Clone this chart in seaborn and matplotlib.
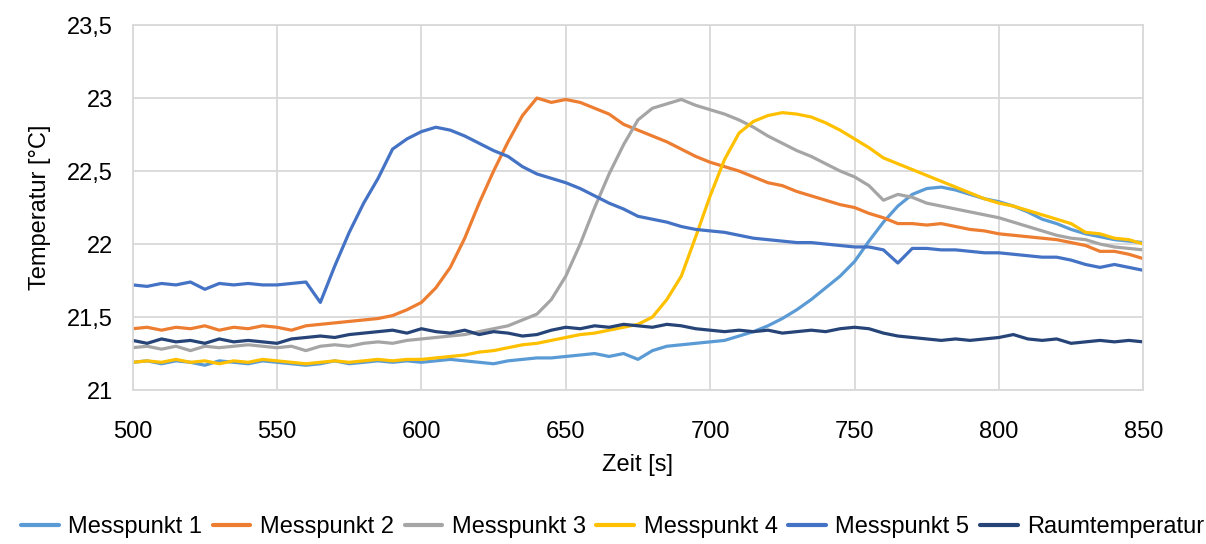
import numpy as np
import pandas as pd
import matplotlib
matplotlib.use("Agg")
import matplotlib.pyplot as plt
from matplotlib.ticker import FuncFormatter
import seaborn as sns

# ---- data (5 s resolution) ----
zeit = list(range(500, 851, 5))

messpunkt_1 = [21.19, 21.20, 21.18, 21.20, 21.19, 21.17, 21.20, 21.19, 21.18, 21.20,
               21.19, 21.18, 21.17, 21.18, 21.20, 21.18, 21.19, 21.20, 21.19, 21.20,
               21.19, 21.20, 21.21, 21.20, 21.19, 21.18, 21.20, 21.21, 21.22, 21.22,
               21.23, 21.24, 21.25, 21.23, 21.25, 21.21, 21.27, 21.30, 21.31, 21.32,
               21.33, 21.34, 21.37, 21.40, 21.44, 21.49, 21.55, 21.62, 21.70, 21.78,
               21.88, 22.02, 22.15, 22.26, 22.34, 22.38, 22.39, 22.37, 22.34, 22.31,
               22.29, 22.26, 22.22, 22.17, 22.14, 22.10, 22.07, 22.05, 22.03, 22.02,
               22.01]

messpunkt_2 = [21.42, 21.43, 21.41, 21.43, 21.42, 21.44, 21.41, 21.43, 21.42, 21.44,
               21.43, 21.41, 21.44, 21.45, 21.46, 21.47, 21.48, 21.49, 21.51, 21.55,
               21.60, 21.70, 21.84, 22.04, 22.28, 22.50, 22.70, 22.88, 23.00, 22.97,
               22.99, 22.97, 22.93, 22.89, 22.82, 22.78, 22.74, 22.70, 22.65, 22.60,
               22.56, 22.53, 22.50, 22.46, 22.42, 22.40, 22.36, 22.33, 22.30, 22.27,
               22.25, 22.21, 22.18, 22.14, 22.14, 22.13, 22.14, 22.12, 22.10, 22.09,
               22.07, 22.06, 22.05, 22.04, 22.03, 22.01, 21.99, 21.95, 21.95, 21.93,
               21.90]

messpunkt_3 = [21.29, 21.30, 21.28, 21.30, 21.27, 21.30, 21.29, 21.30, 21.31, 21.30,
               21.29, 21.30, 21.27, 21.30, 21.31, 21.30, 21.32, 21.33, 21.32, 21.34,
               21.35, 21.36, 21.37, 21.38, 21.40, 21.42, 21.44, 21.48, 21.52, 21.62,
               21.78, 22.00, 22.25, 22.48, 22.68, 22.85, 22.93, 22.96, 22.99, 22.95,
               22.92, 22.89, 22.85, 22.80, 22.74, 22.69, 22.64, 22.60, 22.55, 22.50,
               22.46, 22.40, 22.30, 22.34, 22.32, 22.28, 22.26, 22.24, 22.22, 22.20,
               22.18, 22.15, 22.12, 22.09, 22.06, 22.04, 22.03, 22.00, 21.98, 21.97,
               21.96]

messpunkt_4 = [21.19, 21.20, 21.19, 21.21, 21.19, 21.20, 21.18, 21.20, 21.19, 21.21,
               21.20, 21.19, 21.18, 21.19, 21.20, 21.19, 21.20, 21.21, 21.20, 21.21,
               21.21, 21.22, 21.23, 21.24, 21.26, 21.27, 21.29, 21.31, 21.32, 21.34,
               21.36, 21.38, 21.39, 21.41, 21.43, 21.45, 21.50, 21.62, 21.78, 22.05,
               22.33, 22.58, 22.76, 22.84, 22.88, 22.90, 22.89, 22.87, 22.83, 22.78,
               22.72, 22.66, 22.59, 22.55, 22.51, 22.47, 22.43, 22.39, 22.35, 22.31,
               22.28, 22.26, 22.23, 22.20, 22.17, 22.14, 22.08, 22.07, 22.04, 22.03,
               22.00]

messpunkt_5 = [21.72, 21.71, 21.73, 21.72, 21.74, 21.69, 21.73, 21.72, 21.73, 21.72,
               21.72, 21.73, 21.74, 21.60, 21.85, 22.08, 22.28, 22.45, 22.65, 22.72,
               22.77, 22.80, 22.78, 22.74, 22.69, 22.64, 22.60, 22.53, 22.48, 22.45,
               22.42, 22.38, 22.33, 22.28, 22.24, 22.19, 22.17, 22.15, 22.12, 22.10,
               22.09, 22.08, 22.06, 22.04, 22.03, 22.02, 22.01, 22.01, 22.00, 21.99,
               21.98, 21.98, 21.96, 21.87, 21.97, 21.97, 21.96, 21.96, 21.95, 21.94,
               21.94, 21.93, 21.92, 21.91, 21.91, 21.89, 21.86, 21.84, 21.86, 21.84,
               21.82]

raumtemperatur = [21.34, 21.32, 21.35, 21.33, 21.34, 21.32, 21.35, 21.33, 21.34, 21.33,
                  21.32, 21.35, 21.36, 21.37, 21.36, 21.38, 21.39, 21.40, 21.41, 21.39,
                  21.42, 21.40, 21.39, 21.41, 21.38, 21.40, 21.39, 21.37, 21.38, 21.41,
                  21.43, 21.42, 21.44, 21.43, 21.45, 21.44, 21.43, 21.45, 21.44, 21.42,
                  21.41, 21.40, 21.41, 21.40, 21.41, 21.39, 21.40, 21.41, 21.40, 21.42,
                  21.43, 21.42, 21.39, 21.37, 21.36, 21.35, 21.34, 21.35, 21.34, 21.35,
                  21.36, 21.38, 21.35, 21.34, 21.35, 21.32, 21.33, 21.34, 21.33, 21.34,
                  21.33]

series_names = ["Messpunkt 1", "Messpunkt 2", "Messpunkt 3",
                "Messpunkt 4", "Messpunkt 5", "Raumtemperatur"]
series_values = [messpunkt_1, messpunkt_2, messpunkt_3,
                 messpunkt_4, messpunkt_5, raumtemperatur]
colors = ["#5B9BD5", "#ED7D31", "#A5A5A5", "#FFC000", "#4472C4", "#264478"]

x_ticks = [500, 550, 600, 650, 700, 750, 800, 850]
y_ticks = [21, 21.5, 22, 22.5, 23, 23.5]

# ---- long-form table ----
df = pd.concat(
    [pd.DataFrame({"Zeit": zeit, "Temperatur": v, "Serie": n})
     for n, v in zip(series_names, series_values)],
    ignore_index=True,
)

sns.set_theme(style="whitegrid")
plt.rcParams["font.family"] = ["Liberation Sans", "DejaVu Sans"]
plt.rcParams["text.color"] = "black"
plt.rcParams["legend.labelcolor"] = "black"

fig = plt.figure(figsize=(12.06, 5.44), dpi=100)
ax = fig.add_axes([0.110, 0.283, 0.838, 0.671])

sns.lineplot(data=df, x="Zeit", y="Temperatur", hue="Serie",
             hue_order=series_names, palette=dict(zip(series_names, colors)),
             linewidth=2.3, ax=ax, legend=True)

ax.set_xlim(500, 850)
ax.set_ylim(21, 23.5)
ax.set_xticks(x_ticks)
ax.set_yticks(y_ticks)
ax.yaxis.set_major_formatter(FuncFormatter(lambda v, p: f"{v:g}".replace(".", ",")))
ax.tick_params(axis="both", labelsize=17, colors="black", length=0)
ax.tick_params(axis="x", pad=22)
ax.tick_params(axis="y", pad=14)
ax.grid(True, color="#D9D9D9", linewidth=1.3)
for s in ax.spines.values():
    s.set_color("#D9D9D9")
    s.set_linewidth(1.3)

ax.set_xlabel("Zeit [s]", fontsize=17, color="black", labelpad=8)
ax.set_ylabel("Temperatur [°C]", fontsize=17, color="black", labelpad=12)

handles, labels = ax.get_legend_handles_labels()
ax.get_legend().remove()
for h in handles:
    h.set_linewidth(3)
fig.legend(handles, labels, loc="center", bbox_to_anchor=(0.508, 0.031),
           ncol=6, frameon=False, fontsize=17, handlelength=1.6,
           handletextpad=0.4, columnspacing=0.45, labelcolor="black")

fig.savefig("out.png", dpi=100)
